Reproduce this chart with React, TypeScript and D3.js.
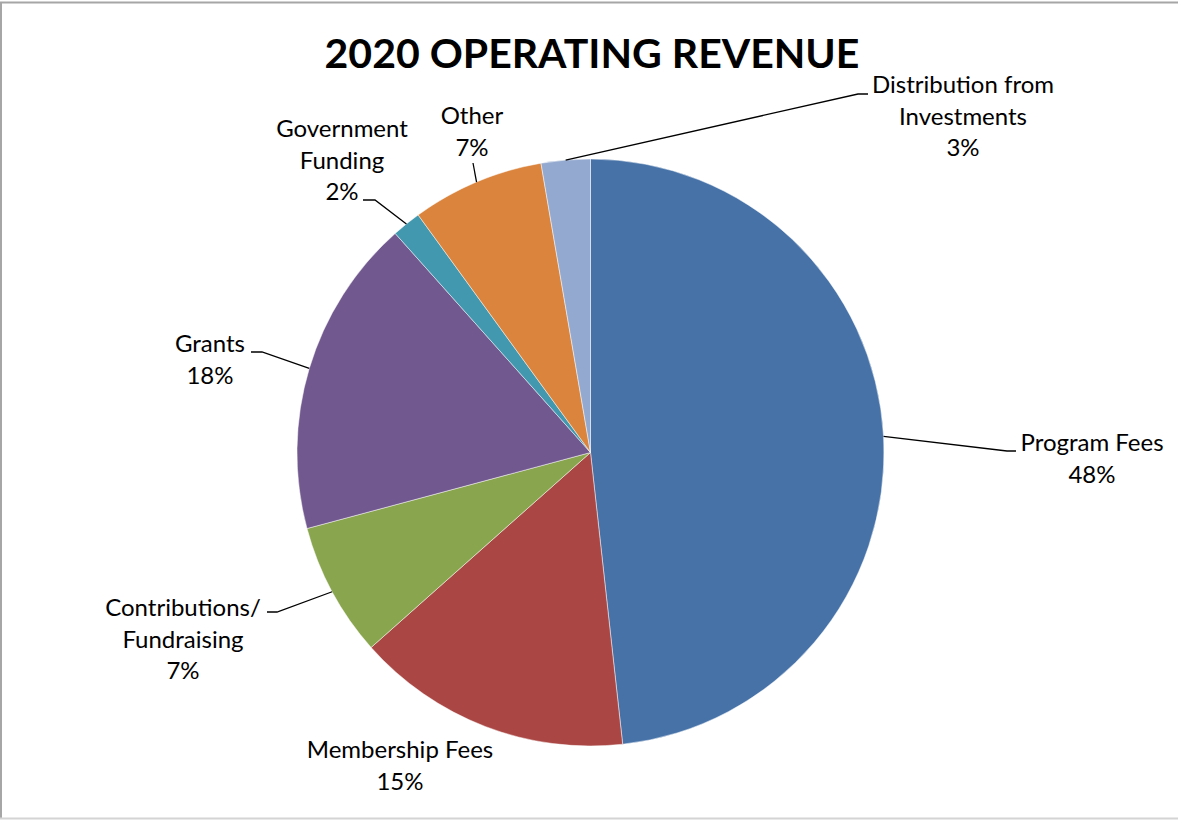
import React from "react";
import * as d3 from "d3";

const categories = [
  "Program Fees",
  "Membership Fees",
  "Contributions/\nFundraising",
  "Grants",
  "Government\nFunding",
  "Other",
  "Distribution from\nInvestments",
];
const values = [48.3, 15.2, 7.4, 17.6, 1.6, 7.3, 2.7];
const colors = ["#4672A8", "#AA4744", "#89A54E", "#71588F", "#4198AF", "#DB843D", "#93A9CF"];
const title = "2020 OPERATING REVENUE";

// label layout (text centre x, first baseline y, leader elbow and end)
const labelLayout = [
  { x: 1092, y: 451, elbow: [1007, 451], end: [1016, 451] },
  { x: 400, y: 758, elbow: null, end: null },
  { x: 183, y: 616, elbow: [277, 612], end: [267, 612] },
  { x: 210, y: 352, elbow: [262, 352], end: [251, 352] },
  { x: 342, y: 137, elbow: [375, 200], end: [363, 200] },
  { x: 472, y: 124, elbow: [473, 163], end: null },
  { x: 963, y: 93, elbow: [858, 94], end: [868, 94] },
];

const W = 1178;
const H = 820;
const cx = 590.5;
const cy = 452.5;
const R = 293.5;
const FONT = "Lato, 'Open Sans', sans-serif";
const LH = 31.5;

export default function App() {
  const pie = d3.pie<number>().sort(null).value((d) => d)(values);
  const arc = d3.arc<d3.PieArcDatum<number>>().innerRadius(0).outerRadius(R);
  const total = d3.sum(values);

  return (
    <svg width={W} height={H} style={{ position: "absolute", left: 0, top: 0, display: "block" }}>
      <rect x={0} y={0} width={W} height={H} fill="#fff" />
      <line x1={0} x2={W} y1={2.5} y2={2.5} stroke="#a6a6a6" strokeWidth={2} />
      <line x1={1} x2={1} y1={2} y2={819} stroke="#a6a6a6" strokeWidth={2} />
      <line x1={0} x2={W} y1={818.5} y2={818.5} stroke="#d4d4d4" strokeWidth={2} />
      <text
        x={592}
        y={68}
        textAnchor="middle"
        fontFamily={FONT}
        fontWeight="bold"
        fontSize={41}
        fill="#000"
      >
        {title}
      </text>
      <g transform={`translate(${cx},${cy})`}>
        {pie.map((p, i) => (
          <path key={i} d={arc(p) || ""} fill={colors[i]} stroke="#ffffff" strokeOpacity={0.6} strokeWidth={0.8} />
        ))}
      </g>
      {pie.map((p, i) => {
        const L = labelLayout[i];
        const mid = (p.startAngle + p.endAngle) / 2;
        const sx = cx + R * Math.sin(mid);
        const sy = cy - R * Math.cos(mid);
        const pts: number[][] = [[sx, sy]];
        if (L.elbow) pts.push(L.elbow);
        if (L.end) pts.push(L.end);
        const line = d3.line()(pts as [number, number][]);
        const lines = categories[i].split("\n");
        const pct = Math.round((values[i] / total) * 100) + "%";
        lines.push(pct);
        return (
          <g key={i}>
            {L.elbow && <path d={line || ""} fill="none" stroke="#000" strokeWidth={1.3} />}
            <text textAnchor="middle" fontFamily={FONT} fontSize={24} fill="#000">
              {lines.map((t, j) => (
                <tspan key={j} x={L.x} y={L.y + j * LH}>
                  {t}
                </tspan>
              ))}
            </text>
          </g>
        );
      })}
    </svg>
  );
}
